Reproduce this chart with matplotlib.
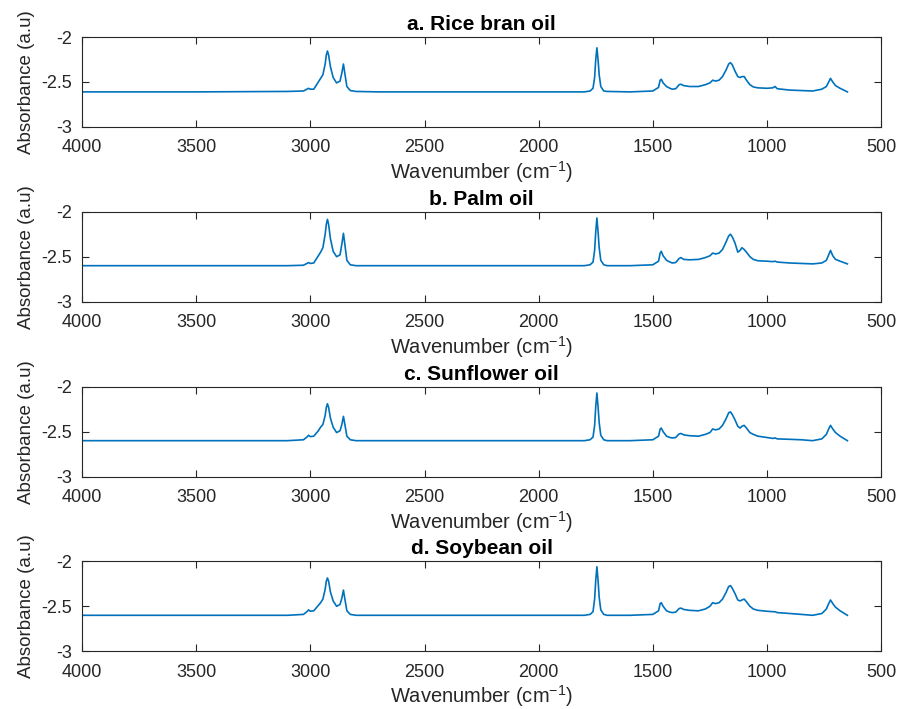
import matplotlib
matplotlib.use('Agg')
import matplotlib.pyplot as plt

# FTIR spectra of four oils
wavenumber = [4000, 3500, 3100, 3030, 3015, 3008, 3000, 2985, 2965, 2955, 2945, 2935,
              2930, 2925, 2920, 2912, 2900, 2885, 2870, 2862, 2855, 2848, 2840, 2825,
              2800, 2700, 2300, 1900, 1800, 1775, 1762, 1755, 1750, 1745, 1740, 1735,
              1728, 1715, 1700, 1600, 1500, 1475, 1468, 1463, 1455, 1440, 1425, 1415,
              1400, 1385, 1377, 1365, 1340, 1300, 1270, 1250, 1238, 1225, 1210, 1195,
              1180, 1168, 1160, 1152, 1140, 1128, 1118, 1110, 1100, 1090, 1075, 1060,
              1040, 1000, 975, 965, 955, 900, 850, 800, 760, 740, 730, 722, 712, 700,
              680, 648]

rice_bran = [-2.61, -2.61, -2.605, -2.60, -2.58, -2.57, -2.58, -2.58, -2.50, -2.46, -2.42, -2.30,
             -2.20, -2.155, -2.20, -2.33, -2.45, -2.51, -2.49, -2.40, -2.30, -2.42, -2.55, -2.595,
             -2.605, -2.61, -2.61, -2.61, -2.61, -2.60, -2.57, -2.45, -2.25, -2.12, -2.25, -2.42,
             -2.55, -2.60, -2.605, -2.61, -2.60, -2.56, -2.48, -2.47, -2.51, -2.55, -2.57, -2.58,
             -2.575, -2.53, -2.525, -2.54, -2.55, -2.55, -2.53, -2.51, -2.48, -2.49, -2.48, -2.44,
             -2.37, -2.30, -2.285, -2.31, -2.38, -2.44, -2.45, -2.44, -2.44, -2.48, -2.53, -2.555,
             -2.565, -2.57, -2.565, -2.55, -2.575, -2.59, -2.595, -2.60, -2.58, -2.55, -2.50, -2.46,
             -2.50, -2.54, -2.57, -2.61]

palm = [-2.60, -2.60, -2.60, -2.595, -2.575, -2.565, -2.575, -2.57, -2.49, -2.45, -2.40, -2.25,
        -2.14, -2.085, -2.14, -2.30, -2.44, -2.50, -2.48, -2.36, -2.24, -2.38, -2.54, -2.59,
        -2.60, -2.60, -2.60, -2.60, -2.60, -2.59, -2.56, -2.43, -2.22, -2.07, -2.22, -2.40,
        -2.54, -2.59, -2.60, -2.60, -2.59, -2.55, -2.46, -2.44, -2.49, -2.54, -2.56, -2.57,
        -2.565, -2.52, -2.51, -2.53, -2.535, -2.53, -2.51, -2.49, -2.46, -2.47, -2.46, -2.42,
        -2.34, -2.27, -2.25, -2.28, -2.35, -2.45, -2.43, -2.40, -2.42, -2.45, -2.50, -2.53,
        -2.545, -2.55, -2.555, -2.55, -2.56, -2.57, -2.575, -2.58, -2.57, -2.54, -2.48, -2.43,
        -2.49, -2.53, -2.55, -2.58]

sunflower = [-2.60, -2.60, -2.60, -2.59, -2.56, -2.54, -2.555, -2.55, -2.49, -2.45, -2.42, -2.32,
             -2.23, -2.19, -2.23, -2.35, -2.45, -2.51, -2.49, -2.42, -2.33, -2.43, -2.55, -2.59,
             -2.60, -2.60, -2.60, -2.60, -2.60, -2.59, -2.56, -2.43, -2.22, -2.07, -2.22, -2.40,
             -2.54, -2.59, -2.60, -2.60, -2.59, -2.55, -2.47, -2.46, -2.50, -2.55, -2.565, -2.57,
             -2.565, -2.525, -2.52, -2.535, -2.545, -2.55, -2.53, -2.51, -2.47, -2.48, -2.47, -2.43,
             -2.36, -2.29, -2.28, -2.31, -2.37, -2.44, -2.46, -2.44, -2.43, -2.46, -2.51, -2.53,
             -2.55, -2.565, -2.575, -2.57, -2.58, -2.585, -2.59, -2.60, -2.58, -2.53, -2.47, -2.43,
             -2.47, -2.51, -2.55, -2.60]

soybean = [-2.60, -2.60, -2.60, -2.59, -2.56, -2.54, -2.555, -2.55, -2.49, -2.46, -2.42, -2.31,
           -2.22, -2.185, -2.22, -2.34, -2.44, -2.50, -2.48, -2.41, -2.32, -2.43, -2.55, -2.59,
           -2.60, -2.60, -2.60, -2.60, -2.60, -2.59, -2.56, -2.42, -2.21, -2.06, -2.21, -2.40,
           -2.54, -2.59, -2.60, -2.60, -2.59, -2.55, -2.47, -2.46, -2.50, -2.55, -2.565, -2.57,
           -2.565, -2.525, -2.52, -2.535, -2.545, -2.55, -2.53, -2.50, -2.46, -2.47, -2.46, -2.42,
           -2.35, -2.28, -2.27, -2.30, -2.36, -2.43, -2.44, -2.43, -2.42, -2.45, -2.50, -2.53,
           -2.545, -2.555, -2.56, -2.56, -2.57, -2.58, -2.59, -2.60, -2.58, -2.53, -2.47, -2.43,
           -2.47, -2.51, -2.55, -2.60]

titles = ['a. Rice bran oil', 'b. Palm oil', 'c. Sunflower oil', 'd. Soybean oil']
spectra = [rice_bran, palm, sunflower, soybean]
x_ticks = [4000, 3500, 3000, 2500, 2000, 1500, 1000, 500]
y_ticks = [-3, -2.5, -2]

plt.rcParams['font.family'] = ['Liberation Sans', 'DejaVu Sans']
plt.rcParams['mathtext.default'] = 'regular'

fig = plt.figure(figsize=(9, 7.09), dpi=100)
dark = '#262626'
bottoms = [0.8209, 0.5745, 0.3277, 0.0814]

for i in range(4):
    ax = fig.add_axes([0.0911, bottoms[i], 0.888, 0.1269])
    ax.plot(wavenumber, spectra[i], color='#0072BD', linewidth=1.2)
    ax.set_xlim(4000, 500)
    ax.set_ylim(-3, -2)
    ax.set_xticks(x_ticks)
    ax.set_yticks(y_ticks)
    ax.set_yticklabels(['-3', '-2.5', '-2'])
    ax.tick_params(direction='in', length=5, width=0.8, colors=dark,
                   top=True, right=True, labelsize=13)
    ax.tick_params(axis='x', pad=9)
    ax.tick_params(axis='y', pad=7)
    for s in ax.spines.values():
        s.set_color(dark)
        s.set_linewidth(0.8)
    ax.set_title(titles[i], fontsize=15, fontweight='bold', color='black', pad=5)
    ax.set_xlabel(r'Wavenumber (cm$^{-1}$)', fontsize=14.5, color=dark, labelpad=2)
    ax.set_ylabel('Absorbance (a.u)', fontsize=13.5, color=dark, labelpad=5)

fig.savefig('out.png', dpi=100)
